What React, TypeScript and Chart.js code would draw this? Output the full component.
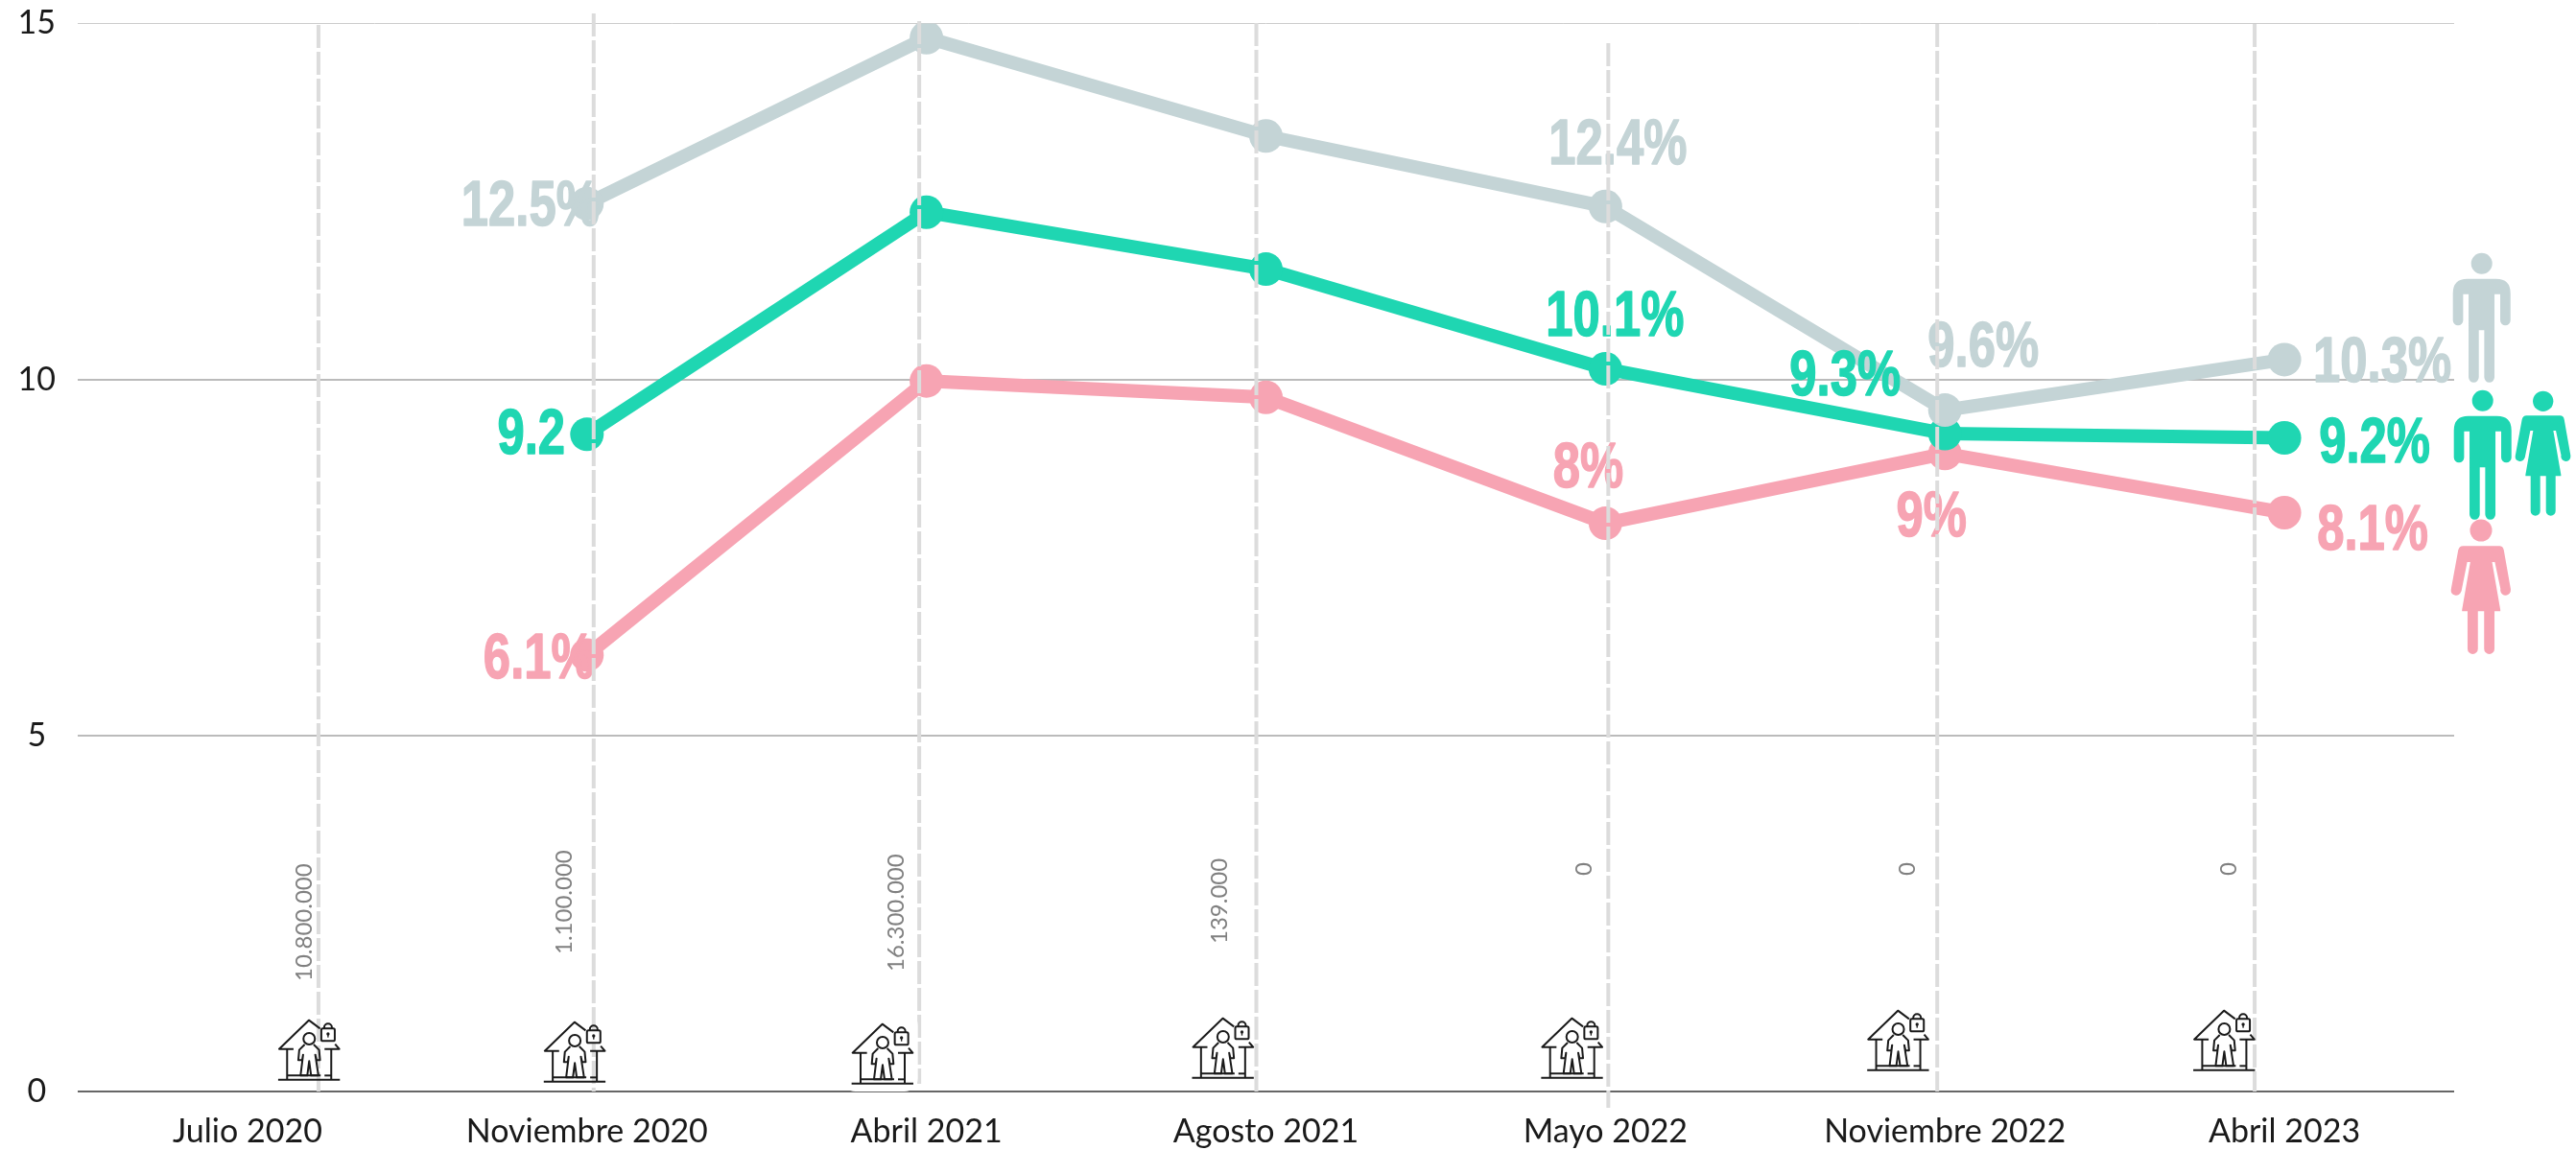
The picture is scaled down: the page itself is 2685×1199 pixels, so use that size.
import React, { useEffect, useRef } from "react";
import { Chart, registerables } from "chart.js";

Chart.register(...registerables);

const categories = ["Julio 2020", "Noviembre 2020", "Abril 2021", "Agosto 2021", "Mayo 2022", "Noviembre 2022", "Abril 2023"];
const hombres = [null, 12.47, 14.8, 13.42, 12.43, 9.57, 10.28];
const total = [null, 9.23, 12.35, 11.55, 10.15, 9.24, 9.18];
const mujeres = [null, 6.13, 9.98, 9.75, 7.98, 8.96, 8.13];
const hombresLabels = [null, "12.5%", null, null, "12.4%", "9.6%", "10.3%"];
const totalLabels = [null, "9.2", null, null, "10.1%", "9.3%", "9.2%"];
const mujeresLabels = [null, "6.1%", null, null, "8%", "9%", "8.1%"];
const confinados = ["10.800.000", "1.100.000", "16.300.000", "139.000", "0", "0", "0"];
const yTicks = [0, 5, 10, 15];

const GRAY = "#c4d4d6";
const TEAL = "#1fd6b2";
const PINK = "#f7a4b3";

// annotation placement, relative to the scales
const labelOffsets = [
  [null, [-59, 2], null, null, [13, -64], [40, -66], [102, 3]],
  [null, [-58, 0], null, null, [10, -55], [-104, -60], [94, 5]],
  [null, [-50, 4], null, null, [-18, -58], [-14, 66], [92, 18]],
];
const dashOffsets = [74, 7, -7.5, -10, 3, -8, -31];
const dashTops = [26, 14, 22, 24, 45, 25, 25];
const dashBottoms = [1138, 1138, 1130, 1138, 1155, 1138, 1138];
const houseOffsets = [[32, 1063], [-45, 1065], [-78, 1067], [-77, 1061], [-67, 1061], [-81, 1053], [-95, 1053]];
const numberOffsets = [[59, 1023], [-24, 995], [-31, 1013], [-48, 984], [-22, 913], [-39, 913], [-58, 913]];

function drawHouse(ctx: CanvasRenderingContext2D, left: number, top: number, patch: boolean) {
  ctx.save();
  if (patch) {
    ctx.fillStyle = "#fff";
    ctx.beginPath();
    ctx.roundRect(left - 10, top - 12, 79, 83, 14);
    ctx.fill();
  }
  ctx.translate(left - 52 / 3, top - 80 / 3);
  ctx.scale(1 / 3, 1 / 3);
  ctx.strokeStyle = "#1a1a1a";
  ctx.fillStyle = "#1a1a1a";
  ctx.lineWidth = 6;
  ctx.lineJoin = "round";
  ctx.lineCap = "butt";
  const line = (pts: number[][]) => {
    ctx.beginPath();
    pts.forEach((p, i) => (i ? ctx.lineTo(p[0], p[1]) : ctx.moveTo(p[0], p[1])));
    ctx.stroke();
  };
  line([[183, 108], [148, 82], [55, 172], [100, 172]]);
  line([[197, 172], [243, 172], [230, 157]]);
  line([[80, 172], [80, 268]]);
  line([[218, 172], [218, 268]]);
  line([[52, 268], [245, 268]]);
  line([[80, 255], [185, 255]]);
  line([[197, 255], [218, 255]]);
  ctx.fillStyle = "#fff";
  ctx.beginPath();
  ctx.arc(149, 140, 18, 0, Math.PI * 2);
  ctx.fill();
  ctx.stroke();
  line([[135, 158], [118, 175], [115, 207], [127, 207], [130, 190], [122, 255], [143, 255], [149, 210], [155, 255], [178, 255], [168, 190], [172, 207], [183, 207], [180, 175], [163, 158]]);
  ctx.beginPath();
  ctx.roundRect(187, 108, 42, 39, 5);
  ctx.fill();
  ctx.stroke();
  ctx.beginPath();
  ctx.arc(208, 105, 12, Math.PI, 0);
  ctx.lineTo(220, 108);
  ctx.moveTo(196, 105);
  ctx.lineTo(196, 108);
  ctx.stroke();
  ctx.fillStyle = "#1a1a1a";
  ctx.beginPath();
  ctx.arc(208, 125, 5, 0, Math.PI * 2);
  ctx.fill();
  ctx.fillRect(206, 125, 4, 11);
  ctx.restore();
}

function drawMan(ctx: CanvasRenderingContext2D, cx: number, cy: number, color: string) {
  ctx.save();
  ctx.translate(cx - 140 / 3, cy - 74 / 3);
  ctx.scale(1 / 3, 1 / 3);
  ctx.fillStyle = color;
  ctx.beginPath();
  ctx.arc(140, 74, 33, 0, Math.PI * 2);
  ctx.fill();
  ctx.beginPath();
  ctx.moveTo(95, 122);
  ctx.lineTo(185, 122);
  ctx.quadraticCurveTo(230, 122, 230, 167);
  ctx.lineTo(230, 252);
  ctx.arc(214, 252, 16, 0, Math.PI);
  ctx.lineTo(198, 170);
  ctx.lineTo(180, 170);
  ctx.lineTo(180, 430);
  ctx.arc(164, 430, 16, 0, Math.PI);
  ctx.lineTo(148, 283);
  ctx.lineTo(131, 283);
  ctx.lineTo(131, 430);
  ctx.arc(115, 430, 16, 0, Math.PI);
  ctx.lineTo(99, 170);
  ctx.lineTo(82, 170);
  ctx.lineTo(82, 252);
  ctx.arc(66, 252, 16, 0, Math.PI);
  ctx.lineTo(50, 167);
  ctx.quadraticCurveTo(50, 122, 95, 122);
  ctx.fill();
  ctx.restore();
}

function drawWoman(ctx: CanvasRenderingContext2D, cx: number, cy: number, color: string, k = 1) {
  ctx.save();
  ctx.translate(cx, cy);
  ctx.scale(k / 3, k / 3);
  ctx.translate(-332, -505);
  ctx.fillStyle = color;
  ctx.beginPath();
  ctx.arc(332, 505, 32, 0, Math.PI * 2);
  ctx.fill();
  ctx.beginPath();
  ctx.moveTo(280, 550);
  ctx.lineTo(385, 550);
  ctx.quadraticCurveTo(396, 550, 398, 562);
  ctx.lineTo(418, 675);
  ctx.arc(403, 678, 15, -0.1, Math.PI + 0.25);
  ctx.lineTo(372, 597);
  ctx.lineTo(364, 597);
  ctx.lineTo(388, 735);
  ctx.lineTo(388, 739);
  ctx.lineTo(371, 739);
  ctx.lineTo(371, 848);
  ctx.arc(356, 848, 15, 0, Math.PI);
  ctx.lineTo(341, 739);
  ctx.lineTo(323, 739);
  ctx.lineTo(323, 848);
  ctx.arc(308, 848, 15, 0, Math.PI);
  ctx.lineTo(293, 739);
  ctx.lineTo(277, 739);
  ctx.lineTo(277, 735);
  ctx.lineTo(301, 597);
  ctx.lineTo(292, 597);
  ctx.lineTo(275, 682);
  ctx.arc(260, 678, 15, 0.25, Math.PI + 0.1);
  ctx.lineTo(266, 562);
  ctx.quadraticCurveTo(269, 550, 280, 550);
  ctx.fill();
  ctx.restore();
}

const overlayPlugin = {
  id: "overlay",
  afterDatasetsDraw(chart: any) {
    const { ctx, scales } = chart;
    const x = scales.x;
    // value labels
    const labelSets = [hombresLabels, totalLabels, mujeresLabels];
    const colors = [GRAY, TEAL, PINK];
    ctx.save();
    ctx.font = 'bold 66px "Liberation Sans", sans-serif';
    ctx.textAlign = "center";
    ctx.textBaseline = "middle";
    ctx.lineJoin = "round";
    labelSets.forEach((labels, s) => {
      const meta = chart.getDatasetMeta(s);
      labels.forEach((t, i) => {
        if (!t) return;
        const off = labelOffsets[s][i] as number[];
        const pt = meta.data[i];
        ctx.save();
        ctx.fillStyle = colors[s];
        ctx.strokeStyle = colors[s];
        ctx.lineWidth = 1.5;
        ctx.translate(pt.x + off[0], pt.y + off[1] + 2);
        ctx.scale(0.77, 1);
        ctx.fillText(t, 0, 0);
        ctx.strokeText(t, 0, 0);
        ctx.restore();
      });
    });
    ctx.restore();

    // dashed reference lines
    ctx.save();
    ctx.strokeStyle = "#dcdcdc";
    ctx.lineWidth = 4;
    ctx.setLineDash([24, 4]);
    categories.forEach((_, i) => {
      const px = x.getPixelForValue(i) + dashOffsets[i];
      ctx.beginPath();
      ctx.moveTo(px, dashTops[i]);
      ctx.lineTo(px, dashBottoms[i]);
      ctx.stroke();
    });
    ctx.restore();

    // rotated counts
    ctx.save();
    ctx.fillStyle = "#808080";
    ctx.font = '400 24px Lato, sans-serif';
    ctx.textAlign = "left";
    ctx.textBaseline = "middle";
    confinados.forEach((t, i) => {
      ctx.save();
      ctx.translate(x.getPixelForValue(i) + numberOffsets[i][0], numberOffsets[i][1]);
      ctx.rotate(-Math.PI / 2);
      ctx.fillText(t, 0, 0);
      ctx.restore();
    });
    ctx.restore();

    // icons
    categories.forEach((_, i) => {
      drawHouse(ctx, x.getPixelForValue(i) + houseOffsets[i][0], houseOffsets[i][1], i === 2);
    });
    drawMan(ctx, 2586.7, 274.7, GRAY);
    drawMan(ctx, 2587.7, 417.7, TEAL);
    drawWoman(ctx, 2650.7, 418.3, TEAL);
    drawWoman(ctx, 2586, 553, PINK, 1.08);
  },
};

export default function App() {
  const ref = useRef<HTMLCanvasElement>(null);
  useEffect(() => {
    const series = [
      { label: "Hombres", data: hombres, color: GRAY },
      { label: "Total", data: total, color: TEAL },
      { label: "Mujeres", data: mujeres, color: PINK },
    ];
    const chart = new Chart(ref.current as HTMLCanvasElement, {
      type: "line",
      data: {
        labels: categories,
        datasets: series.map((s) => ({
          label: s.label,
          data: s.data,
          borderColor: s.color,
          backgroundColor: s.color,
          borderWidth: 14,
          pointRadius: 17.5,
          pointBorderWidth: 0,
          pointBackgroundColor: s.color,
          tension: 0,
          spanGaps: false,
        })),
      },
      options: {
        animation: false,
        responsive: false,
        devicePixelRatio: 1,
        layout: { padding: { top: 24.5, right: 127, left: 0, bottom: 0 } },
        plugins: { legend: { display: false }, tooltip: { enabled: false } },
        scales: {
          x: {
            offset: true,
            grid: { display: false },
            border: { display: false },
            ticks: { font: { family: "Lato", size: 34 }, color: "#1a1a1a", padding: 14, maxRotation: 0, autoSkip: false },
            afterFit: (s: any) => { s.height = 61; },
          },
          y: {
            min: 0,
            max: 15,
            grid: {
              drawTicks: false,
              color: (c: any) => (c.tick.value === 0 ? "#666666" : c.tick.value === 15 ? "#cccccc" : "#bbbbbb"),
              lineWidth: (c: any) => (c.tick.value === 15 ? 1 : 2),
            },
            border: { display: false },
            afterBuildTicks: (s: any) => { s.ticks = yTicks.map((value) => ({ value })); },
            ticks: { font: { family: "Lato", size: 34 }, color: "#1a1a1a", crossAlign: "center", padding: 23 },
            afterFit: (s: any) => { s.width = 81; s.paddingTop = 0; s.paddingBottom = 0; },
          },
        },
      },
      plugins: [overlayPlugin],
    } as any);
    return () => chart.destroy();
  }, []);
  return (
    <div style={{ position: "fixed", left: 0, top: 0, width: 2685, height: 1199, background: "#fff" }}>
      <canvas ref={ref} width={2685} height={1199} style={{ display: "block", width: 2685, height: 1199 }} />
    </div>
  );
}
